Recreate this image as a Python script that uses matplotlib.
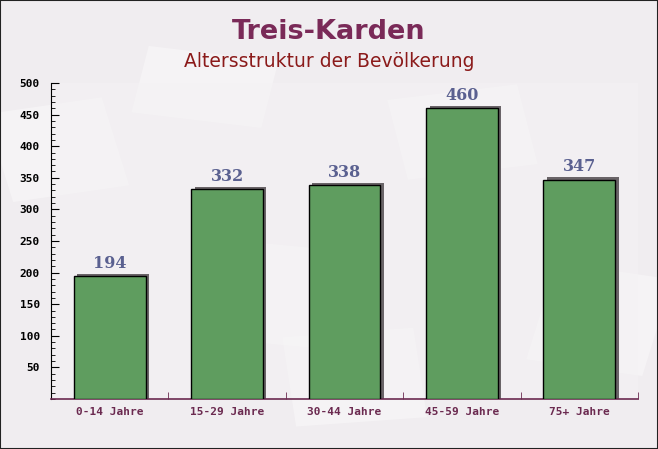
import matplotlib.pyplot as plt
from matplotlib.patches import Rectangle
from matplotlib.ticker import MultipleLocator, FixedLocator

# Data
categories = ['0-14 Jahre', '15-29 Jahre', '30-44 Jahre', '45-59 Jahre', '75+ Jahre']
values = [194, 332, 338, 460, 347]

title = 'Treis-Karden'
subtitle = 'Altersstruktur der Bevölkerung'

fig = plt.figure(figsize=(6.58, 4.49), dpi=100, facecolor='#f0edf0')

# faint background "envelopes" behind everything
bg = fig.add_axes([0, 0, 1, 1], zorder=-1)
bg.set_xlim(0, 1)
bg.set_ylim(0, 1)
bg.axis('off')
for (x0, y0, w, h, a) in [(0.02, 0.55, 0.18, 0.2, 12), (0.3, 0.25, 0.2, 0.22, -8),
                           (0.62, 0.6, 0.2, 0.18, 10), (0.8, 0.2, 0.18, 0.22, -12),
                           (0.45, 0.05, 0.2, 0.2, 6), (0.2, 0.75, 0.2, 0.15, -10)]:
    bg.add_patch(Rectangle((x0, y0), w, h, angle=a, facecolor='white', alpha=0.35,
                           edgecolor='none'))

ax = fig.add_axes([51 / 658, 1 - 399 / 449, 587 / 658, 316 / 449])
ax.set_facecolor('#f4f2f4')
ax.patch.set_alpha(0.5)

n = len(categories)
xs = list(range(n))
width = 0.61

# shadows
for x, v in zip(xs, values):
    ax.add_patch(Rectangle((x - width / 2 + 0.03, 0), width, v + 4,
                           facecolor='#6a6468', edgecolor='none', zorder=2))
ax.bar(xs, values, width=width, color='#5f9d5f', edgecolor='black', linewidth=1.0,
       zorder=3)

for x, v in zip(xs, values):
    ax.text(x, v + 7, str(v), ha='center', va='bottom', fontsize=11.5, fontweight='bold',
            family='DejaVu Serif', color='#5a6090', zorder=4)

ax.set_xlim(-0.5, n - 0.5)
ax.set_ylim(0, 500)

ax.spines['top'].set_visible(False)
ax.spines['right'].set_visible(False)
ax.spines['left'].set_color('black')
ax.spines['bottom'].set_color('#6b2a50')
ax.spines['bottom'].set_linewidth(1.2)

ax.yaxis.set_major_locator(FixedLocator([50, 100, 150, 200, 250, 300, 350, 400, 450, 500]))
ax.yaxis.set_minor_locator(MultipleLocator(10))
ax.tick_params(axis='y', which='major', direction='in', length=6, color='black',
               labelsize=8, pad=8)
ax.tick_params(axis='y', which='minor', direction='in', length=3, color='black')
for lab in ax.get_yticklabels():
    lab.set_family('DejaVu Sans Mono')
    lab.set_fontweight('bold')

ax.set_xticks(xs)
ax.set_xticklabels(categories, family='DejaVu Sans Mono', fontsize=8, color='#6b2a50',
                   fontweight='bold')
ax.tick_params(axis='x', which='major', length=0, pad=6)
ax.xaxis.set_minor_locator(FixedLocator([x + 0.5 for x in xs]))
ax.tick_params(axis='x', which='minor', direction='in', length=5, color='#6b2a50')

fig.text(0.5, 0.928, title, ha='center', va='center', fontsize=19.5, fontweight='bold',
         color='#7a2a58')
fig.text(0.5, 0.862, subtitle, ha='center', va='center', fontsize=13.5, color='#8b1a1a')

fig.patches.append(Rectangle((0, 0), 1, 1, transform=fig.transFigure, fill=False,
                             edgecolor='#222222', linewidth=1.5, zorder=10))

fig.savefig('out.png', dpi=100, facecolor=fig.get_facecolor())
